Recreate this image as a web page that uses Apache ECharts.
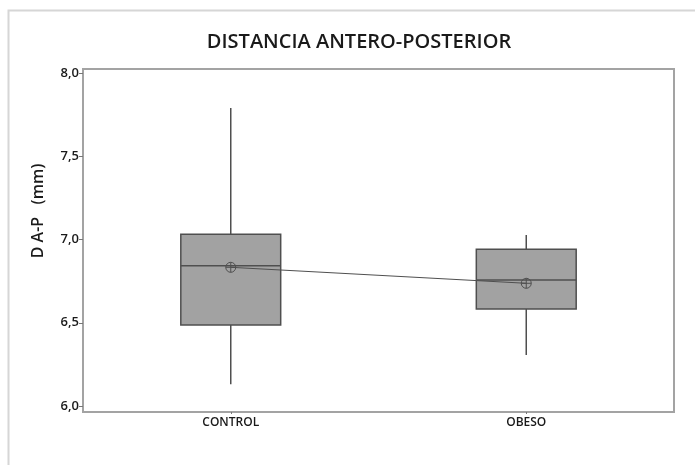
<!DOCTYPE html>
<html>
<head>
<meta charset="utf-8">
<script src="https://cdn.jsdelivr.net/npm/echarts@6/dist/echarts.min.js"></script>
<style>
  html, body { margin: 0; padding: 0; background: #ffffff; }
  #chart { width: 695px; height: 465px; }
</style>
</head>
<body>
<div id="chart"></div>
<script>
// Groups on the x axis
const categories = ['CONTROL', 'OBESO'];
// Five-number summaries per group: [min, Q1, median, Q3, max]
const summaryControl = [6.13, 6.486, 6.843, 7.031, 7.79];
const summaryObeso = [6.306, 6.583, 6.757, 6.941, 7.027];
// Group means (connected by the mean line)
const means = [6.833, 6.737];
// Y axis tick values
const yTicks = [6.0, 6.5, 7.0, 7.5, 8.0];

const summaries = [summaryControl, summaryObeso];
const boxData = summaries.map((s, i) => [i].concat(s));

const dark = '#4f4f4f';
const frame = '#a3a3a3';

// Circle with a cross, used for the mean markers
const meanSymbol = 'path://M0,5 A5,5 0 1,1 10,5 A5,5 0 1,1 0,5 Z M5,0 L5,10 M0,5 L10,5';

const chart = echarts.init(document.getElementById('chart'), null, { renderer: 'canvas' });

chart.setOption({
  animation: false,
  backgroundColor: '#ffffff',
  title: {
    text: 'DISTANCIA ANTERO-POSTERIOR',
    left: 354,
    top: 27,
    textAlign: 'center',
    textStyle: {
      fontFamily: 'Open Sans',
      fontSize: 20,
      fontWeight: 600,
      color: '#1a1a1a'
    }
  },
  graphic: [
    {
      type: 'rect',
      shape: { x: 8.5, y: 10.5, width: 720, height: 480 },
      style: { fill: 'none', stroke: '#d6d6d6', lineWidth: 2 },
      silent: true
    },
    {
      type: 'text',
      x: 38,
      y: 211,
      rotation: Math.PI / 2,
      style: {
        text: 'D A-P   (mm)',
        fontFamily: 'Open Sans',
        fontSize: 16,
        fontWeight: 600,
        fill: '#1a1a1a',
        align: 'center',
        verticalAlign: 'middle'
      }
    }
  ],
  grid: {
    left: 83,
    top: 69,
    right: 21,
    bottom: 53,
    show: true,
    borderColor: frame,
    borderWidth: 2,
    backgroundColor: '#ffffff'
  },
  xAxis: {
    type: 'category',
    data: categories,
    boundaryGap: true,
    axisLine: { show: true, lineStyle: { color: frame, width: 2 } },
    axisTick: { show: true, alignWithLabel: true, length: 2, lineStyle: { color: '#777' } },
    axisLabel: {
      color: '#1a1a1a',
      fontFamily: 'Open Sans',
      fontSize: 12,
      fontWeight: 600,
      margin: 5
    },
    splitLine: { show: false }
  },
  yAxis: {
    type: 'value',
    min: 5.964,
    max: 8.024,
    axisLine: { show: true, lineStyle: { color: frame, width: 2 } },
    axisTick: {
      show: true,
      length: 4,
      customValues: yTicks,
      lineStyle: { color: '#777' }
    },
    axisLabel: {
      customValues: yTicks,
      color: '#1a1a1a',
      fontFamily: 'Open Sans',
      fontSize: 13,
      fontWeight: 600,
      margin: 4,
      formatter: v => v.toFixed(1).replace('.', ',')
    },
    splitLine: { show: false }
  },
  series: [
    {
      type: 'custom',
      data: boxData,
      encode: { x: 0, y: [1, 2, 3, 4, 5] },
      z: 2,
      renderItem: function (params, api) {
        const idx = api.value(0);
        const pMin = api.coord([idx, api.value(1)]);
        const pQ1 = api.coord([idx, api.value(2)]);
        const pMed = api.coord([idx, api.value(3)]);
        const pQ3 = api.coord([idx, api.value(4)]);
        const pMax = api.coord([idx, api.value(5)]);
        const band = api.size([1, 0])[0];
        const w = band * 0.338;
        const x = pMed[0];
        const lineStyle = { stroke: dark, lineWidth: 1.5 };
        return {
          type: 'group',
          children: [
            {
              type: 'line',
              shape: { x1: x, y1: pMax[1], x2: x, y2: pQ3[1] },
              style: lineStyle
            },
            {
              type: 'line',
              shape: { x1: x, y1: pQ1[1], x2: x, y2: pMin[1] },
              style: lineStyle
            },
            {
              type: 'rect',
              shape: { x: x - w / 2, y: pQ3[1], width: w, height: pQ1[1] - pQ3[1] },
              style: { fill: '#a2a2a2', stroke: dark, lineWidth: 1.5 }
            },
            {
              type: 'line',
              shape: { x1: x - w / 2, y1: pMed[1], x2: x + w / 2, y2: pMed[1] },
              style: lineStyle
            }
          ]
        };
      }
    },
    {
      type: 'line',
      data: means,
      z: 3,
      symbol: meanSymbol,
      symbolSize: 10,
      showAllSymbol: true,
      lineStyle: { color: dark, width: 1 },
      itemStyle: { color: 'none', borderColor: dark, borderWidth: 1 }
    }
  ]
});
</script>
</body>
</html>
